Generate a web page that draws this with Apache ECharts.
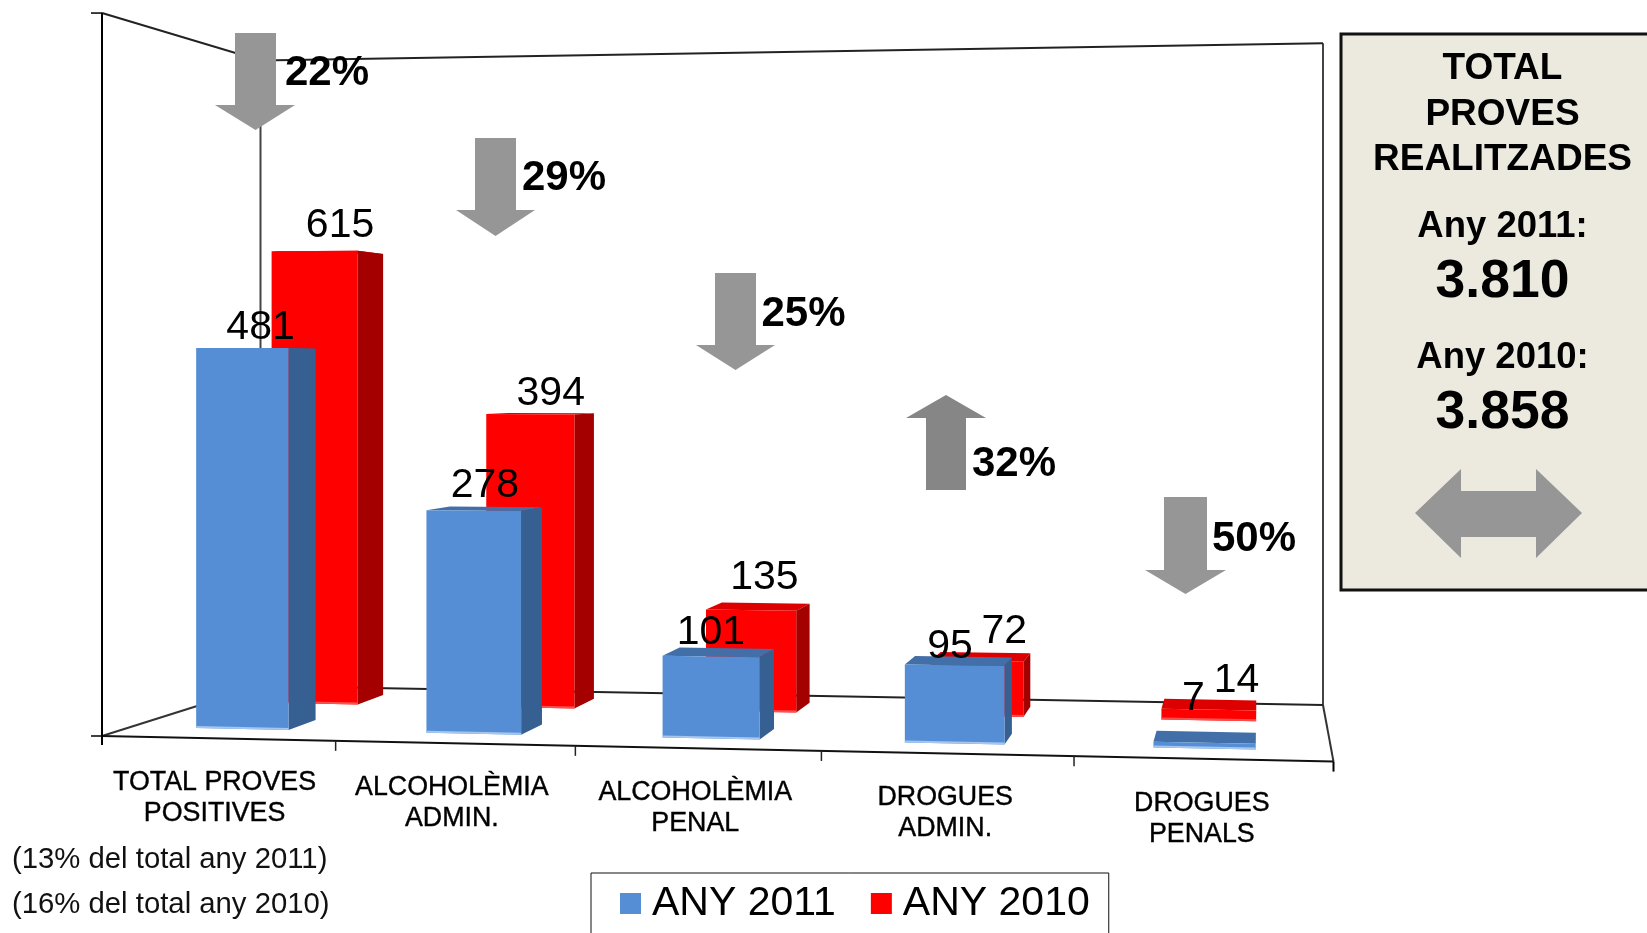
<!DOCTYPE html>
<html>
<head>
<meta charset="utf-8">
<title>Proves positives</title>
<script src="https://cdn.jsdelivr.net/npm/echarts@6/dist/echarts.min.js"></script>
<style>
html, body { margin: 0; padding: 0; background: #fff; overflow: hidden; }
#chart { width: 1647px; height: 933px; }
</style>
</head>
<body>
<div id="chart"></div>
<script>
var categories = ['TOTAL PROVES\nPOSITIVES', 'ALCOHOLÈMIA\nADMIN.', 'ALCOHOLÈMIA\nPENAL', 'DROGUES\nADMIN.', 'DROGUES\nPENALS'];
var values2011 = [481, 278, 101, 95, 7];
var values2010 = [615, 394, 135, 72, 14];
var changes = ['22%', '29%', '25%', '32%', '50%'];
var notes = ['(13% del total any 2011)', '(16% del total any 2010)'];
var panelTitle = ['TOTAL', 'PROVES', 'REALITZADES'];
var panelYears = ['Any 2011:', 'Any 2010:'];
var panelTotals = ['3.810', '3.858'];

// label shifts by hand, the original labels were not placed regularly
var labelDx2011 = [4, 0, -8, -9, -12];
var labelDy2011 = [-21, -23, -20, -14, -38];
var labelDx2010 = [12, 10, 6, 23, 27];
var labelDy2010 = [-27, -20, -29, -25, -24];

var FONT = '"Liberation Sans", Arial, sans-serif';
var GREY = '#969696';

// floor of the 3d box: front left, front right, back right, back left
var floor = [[102, 736], [1333.5, 761.6], [1323, 705], [260.5, 686]];

// unit square -> floor quad
var persp = (function() {
	var p = floor;
	var dx1 = p[1][0] - p[2][0], dx2 = p[3][0] - p[2][0], sx = p[0][0] - p[1][0] + p[2][0] - p[3][0];
	var dy1 = p[1][1] - p[2][1], dy2 = p[3][1] - p[2][1], sy = p[0][1] - p[1][1] + p[2][1] - p[3][1];
	var det = dx1 * dy2 - dx2 * dy1;
	var g = (sx * dy2 - dx2 * sy) / det;
	var h = (dx1 * sy - sx * dy1) / det;
	return {
		a: p[1][0] - p[0][0] + g * p[1][0], b: p[3][0] - p[0][0] + h * p[3][0], c: p[0][0],
		d: p[1][1] - p[0][1] + g * p[1][1], e: p[3][1] - p[0][1] + h * p[3][1], f: p[0][1],
		g: g, h: h
	};
})();

// u along the categories, w into the depth, px is a height measured on the y axis
function project(u, w, px) {
	var W = 1 + persp.g * u + persp.h * w;
	return [
		(persp.a * u + persp.b * w + persp.c) / W,
		(persp.d * u + persp.e * w + persp.f) / W - px / W
	];
}

function renderWall(params, api) {
	var base = api.coord([0, 0])[1];
	var backH = base - api.coord([0, 897])[1];
	var frontH = base - api.coord([0, 895])[1];
	var frontL = project(0, 0, 0), frontR = project(1, 0, 0);
	var backL = project(0, 1, 0), backR = project(1, 1, 0);
	var topFront = project(0, 0, frontH), topBackL = project(0, 1, backH), topBackR = project(1, 1, backH);
	var line = function(pts, color, width) {
		return { type: 'polyline', shape: { points: pts }, style: { stroke: color, lineWidth: width, fill: null } };
	};
	return {
		type: 'group',
		children: [
			line([topBackR, backR], '#444', 2),
			line([topBackL, backL], '#444', 2),
			line([topFront, topBackL, topBackR], '#222', 2),
			line([backL, backR], '#222', 2),
			line([frontL, backL], '#333', 2),
			line([backR, frontR], '#333', 2),
			line([frontL, frontR], '#111', 2),
			line([[frontL[0], topFront[1]], [frontL[0], frontL[1] + 9]], '#000', 2),
			line([[frontL[0] - 11, topFront[1]], [frontL[0], topFront[1]]], '#000', 1.5),
			line([[frontL[0] - 11, frontL[1]], [frontL[0], frontL[1]]], '#000', 1.5),
			line([frontR, [frontR[0], frontR[1] + 10]], '#000', 2)
		]
	};
}

function renderCategory(params, api) {
	var cs = params.coordSys;
	var i = api.value(0);
	var band = api.size([1, 0])[0] / cs.width;
	var um = (api.coord([i, 0])[0] - cs.x) / cs.width;
	var tick = project(um + band / 2, 0, 0);
	var mid = project(um, 0, 0);
	var children = [{
		type: 'text',
		style: {
			text: categories[i], x: mid[0] - 3.5 + i * 0.6, y: mid[1] + 60, align: 'center', verticalAlign: 'middle',
			font: '26.8px ' + FONT, lineHeight: 31, fill: '#000', stroke: '#000', lineWidth: 0.4
		}
	}];
	if (i < categories.length - 1) {
		children.push({
			type: 'line',
			shape: { x1: tick[0], y1: tick[1], x2: tick[0], y2: tick[1] + 10 },
			style: { stroke: '#222', lineWidth: 1.5 }
		});
	}
	return { type: 'group', children: children };
}

function boxRenderer(w0, w1, colors, labelDx, labelDy) {
	return function(params, api) {
		var cs = params.coordSys;
		var i = api.value(0);
		var v = api.value(1);
		var pt = api.coord([i, v]);
		var h = api.coord([i, 0])[1] - pt[1];
		var um = (pt[0] - cs.x) / cs.width - 0.002 + 0.0005 * i;
		var half = api.size([1, 0])[0] * 0.405 / 2 / cs.width;
		var u0 = um - half, u1 = um + half;
		var face = function(pts, color) {
			return { type: 'polygon', shape: { points: pts }, style: { fill: color } };
		};
		var lab = project(um, (w0 + w1) / 2, h);
		return {
			type: 'group',
			children: [
				face([project(u0, w0, h), project(u1, w0, h), project(u1, w1, h), project(u0, w1, h)], colors.top),
				face([project(u1, w0, 0), project(u1, w1, 0), project(u1, w1, h), project(u1, w0, h)], colors.side),
				face([project(u0, w0, 0), project(u1, w0, 0), project(u1, w0, h), project(u0, w0, h)], colors.front),
				{
					type: 'line',
					shape: {
						x1: project(u0, w0, 0)[0], y1: project(u0, w0, 0)[1] - 1,
						x2: project(u1, w0, 0)[0], y2: project(u1, w0, 0)[1] - 1
					},
					style: { stroke: colors.edge, lineWidth: 2 }
				},
				{
					type: 'text',
					z2: 50,
					style: {
						text: String(v), x: lab[0] + labelDx[i], y: lab[1] + labelDy[i],
						align: 'center', verticalAlign: 'middle', font: '41px ' + FONT, fill: '#000'
					}
				}
			]
		};
	};
}

function arrowDown(left, right, wingL, wingR, top, neck, tip) {
	var mid = (left + right) / 2;
	return { type: 'polygon', z: 20, shape: { points: [[left, top], [right, top], [right, neck], [wingR, neck], [mid, tip], [wingL, neck], [left, neck]] }, style: { fill: GREY } };
}

function changeText(text, x, y) {
	return { type: 'text', z: 21, style: { text: text, x: x, y: y, verticalAlign: 'middle', font: 'bold 42px ' + FONT, fill: '#000' } };
}

function panelText(text, y, size) {
	return { type: 'text', z: 31, style: { text: text, x: 1502.5, y: y, align: 'center', verticalAlign: 'middle', font: 'bold ' + size + 'px ' + FONT, fill: '#000' } };
}

var graphics = [
	arrowDown(235, 276, 215, 295, 33, 105, 130),
	arrowDown(475, 516, 456, 535, 138, 210, 236),
	arrowDown(715, 756, 696, 775, 273, 345, 370),
	{ type: 'polygon', z: 20, shape: { points: [[926, 490], [966, 490], [966, 418], [986, 418], [946, 395], [906, 418], [926, 418]] }, style: { fill: '#868686' } },
	arrowDown(1164, 1207, 1145, 1226, 497, 570, 594),
	changeText(changes[0], 285, 73),
	changeText(changes[1], 522, 178),
	changeText(changes[2], 761.5, 314),
	changeText(changes[3], 972, 464),
	changeText(changes[4], 1212, 539),
	{ type: 'text', style: { text: notes[0], x: 12, y: 860, verticalAlign: 'middle', font: '29.3px ' + FONT, fill: '#111' } },
	{ type: 'text', style: { text: notes[1], x: 12, y: 905, verticalAlign: 'middle', font: '29.3px ' + FONT, fill: '#111' } },
	{ type: 'rect', z: 30, shape: { x: 1341, y: 34, width: 330, height: 556 }, style: { fill: '#ece9df', stroke: '#111', lineWidth: 3 } },
	panelText(panelTitle[0], 69, 37),
	panelText(panelTitle[1], 115, 37),
	panelText(panelTitle[2], 160, 37),
	panelText(panelYears[0], 227, 36.5),
	panelText(panelTotals[0], 282, 53.5),
	panelText(panelYears[1], 358, 36.5),
	panelText(panelTotals[1], 413, 53.5),
	{ type: 'polygon', z: 31, shape: { points: [[1415, 513], [1461, 469], [1461, 491], [1536, 491], [1536, 469], [1582, 513], [1536, 558], [1536, 537], [1461, 537], [1461, 558]] }, style: { fill: GREY } }
];

var option = {
	animation: false,
	backgroundColor: '#fff',
	textStyle: { fontFamily: FONT },
	grid: { left: 102, top: 9, width: 1231.5, height: 727 },
	xAxis: { type: 'category', data: categories, show: false },
	yAxis: { type: 'value', min: 0, max: 900, show: false },
	legend: {
		data: ['ANY 2011', 'ANY 2010'],
		left: 591,
		top: 873,
		orient: 'horizontal',
		padding: [10, 19, 12, 29],
		borderColor: '#111',
		borderWidth: 1,
		icon: 'rect',
		itemWidth: 21,
		itemHeight: 21,
		itemGap: 35,
		itemStyle: { borderWidth: 0 },
		textStyle: { fontSize: 41, color: '#000', fontFamily: FONT, padding: [4, 0, 0, 6] }
	},
	graphic: graphics,
	series: [
		{ type: 'custom', name: 'wall', silent: true, clip: false, z: 1, data: [[0, 0]], encode: { x: 0, y: 1 }, renderItem: renderWall },
		{
			type: 'custom', name: 'eix', silent: true, clip: false, z: 2,
			data: categories.map(function(c, i) { return [i, 0]; }),
			encode: { x: 0, y: 1 }, renderItem: renderCategory
		},
		{
			type: 'custom', name: 'ANY 2010', clip: false, z: 3,
			itemStyle: { color: '#ff0000' },
			data: values2010.map(function(v, i) { return [i, v]; }),
			encode: { x: 0, y: 1 },
			renderItem: boxRenderer(0.655, 0.855, { front: '#ff0000', side: '#a50000', top: '#dd0000', edge: '#ff5050' }, labelDx2010, labelDy2010)
		},
		{
			type: 'custom', name: 'ANY 2011', clip: false, z: 4,
			itemStyle: { color: '#558ed5' },
			data: values2011.map(function(v, i) { return [i, v]; }),
			encode: { x: 0, y: 1 },
			renderItem: boxRenderer(0.163, 0.347, { front: '#558ed5', side: '#376092', top: '#426fa8', edge: '#a6c6ee' }, labelDx2011, labelDy2011)
		}
	]
};

var myChart = echarts.init(document.getElementById('chart'));
myChart.setOption(option);
</script>
</body>
</html>
